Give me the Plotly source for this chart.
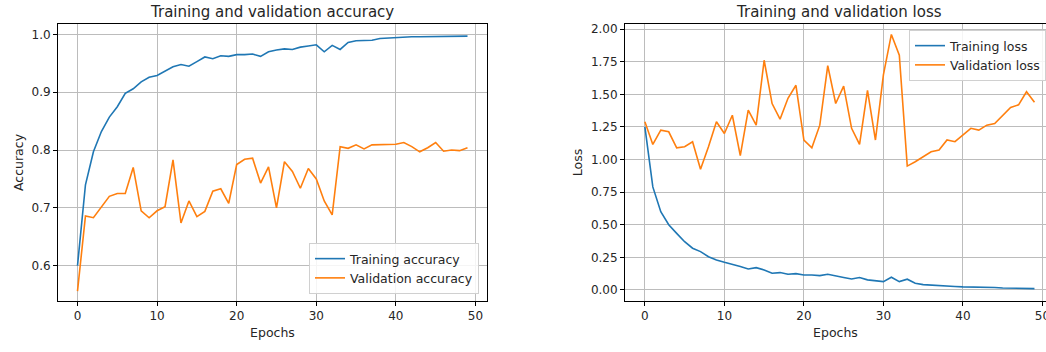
import plotly.graph_objects as go

epochs = list(range(50))

train_acc = [0.600, 0.740, 0.797, 0.832, 0.857, 0.875, 0.898, 0.906, 0.918, 0.926,
             0.929, 0.936, 0.944, 0.948, 0.945, 0.953, 0.961, 0.958, 0.963, 0.962,
             0.965, 0.965, 0.966, 0.962, 0.970, 0.973, 0.975, 0.974, 0.978, 0.980,
             0.982, 0.970, 0.981, 0.974, 0.986, 0.989, 0.990, 0.990, 0.993, 0.994,
             0.994, 0.995, 0.996, 0.996, 0.996, 0.997, 0.997, 0.997, 0.997, 0.997]

val_acc = [0.556, 0.686, 0.683, 0.702, 0.720, 0.725, 0.725, 0.770, 0.695, 0.683,
           0.695, 0.702, 0.783, 0.674, 0.712, 0.685, 0.694, 0.729, 0.733, 0.708,
           0.775, 0.784, 0.786, 0.743, 0.771, 0.700, 0.780, 0.763, 0.734, 0.768,
           0.750, 0.712, 0.688, 0.806, 0.803, 0.809, 0.802, 0.809, 0.809, 0.810,
           0.810, 0.813, 0.806, 0.797, 0.804, 0.813, 0.798, 0.800, 0.799, 0.804]

train_loss = [1.25, 0.79, 0.60, 0.50, 0.434, 0.37, 0.32, 0.294, 0.255, 0.23,
              0.212, 0.197, 0.179, 0.161, 0.171, 0.153, 0.128, 0.133, 0.120, 0.125,
              0.115, 0.115, 0.110, 0.120, 0.110, 0.096, 0.084, 0.095, 0.077, 0.069,
              0.064, 0.097, 0.064, 0.082, 0.051, 0.041, 0.036, 0.033, 0.028, 0.026,
              0.023, 0.023, 0.020, 0.020, 0.018, 0.015, 0.015, 0.015, 0.015, 0.010]

val_loss = [1.29, 1.116, 1.226, 1.213, 1.09, 1.098, 1.137, 0.925, 1.098, 1.29,
            1.20, 1.34, 1.03, 1.38, 1.264, 1.762, 1.43, 1.31, 1.47, 1.57,
            1.15, 1.09, 1.264, 1.72, 1.43, 1.563, 1.24, 1.116, 1.53, 1.15,
            1.65, 1.96, 1.80, 0.95, 0.983, 1.02, 1.06, 1.073, 1.15, 1.137,
            1.19, 1.24, 1.226, 1.264, 1.277, 1.34, 1.40, 1.42, 1.52, 1.44]

BLUE = "#1f77b4"
ORANGE = "#ff7f0e"
FONT = "DejaVu Sans"
TXT = "#262626"
W, H = 1046, 352

fig = go.Figure()
fig.add_trace(go.Scatter(x=epochs, y=train_acc, mode="lines", name="Training accuracy",
                         line=dict(color=BLUE, width=1.6), xaxis="x", yaxis="y", legend="legend"))
fig.add_trace(go.Scatter(x=epochs, y=val_acc, mode="lines", name="Validation accuracy",
                         line=dict(color=ORANGE, width=1.6), xaxis="x", yaxis="y", legend="legend"))
fig.add_trace(go.Scatter(x=epochs, y=train_loss, mode="lines", name="Training loss",
                         line=dict(color=BLUE, width=1.6), xaxis="x2", yaxis="y2", legend="legend2"))
fig.add_trace(go.Scatter(x=epochs, y=val_loss, mode="lines", name="Validation loss",
                         line=dict(color=ORANGE, width=1.6), xaxis="x2", yaxis="y2", legend="legend2"))

def px_x(p):
    return p / W

def px_y(p):
    return (H - p) / H

axis_common = dict(showgrid=True, gridcolor="#bcbcbc", gridwidth=1, zeroline=False,
                   showline=True, linecolor="black", linewidth=1, ticks="outside",
                   ticklen=4, tickcolor="black", tickfont=dict(family=FONT, size=12, color=TXT),
                   automargin=False, ticklabeloverflow="allow")

fig.update_layout(
    width=W, height=H,
    margin=dict(l=0, r=0, t=0, b=0),
    paper_bgcolor="white", plot_bgcolor="white",
    font=dict(family=FONT, size=12, color=TXT),
    xaxis=dict(domain=[px_x(58), px_x(487)], range=[-2.45, 51.45], dtick=10, tick0=0,
               mirror=True, anchor="y",
               title=dict(text="Epochs", font=dict(family=FONT, size=12.5, color=TXT), standoff=5),
               **axis_common),
    yaxis=dict(domain=[px_y(301), px_y(24)], range=[0.539, 1.018], dtick=0.1, tick0=0,
               tickformat=".1f", mirror=True, anchor="x",
               title=dict(text="Accuracy", font=dict(family=FONT, size=12.5, color=TXT), standoff=5),
               **axis_common),
    xaxis2=dict(domain=[px_x(625), 1.0], range=[-2.5, 50.45], dtick=10, tick0=0,
                mirror=True, anchor="y2",
                title=dict(text="Epochs", font=dict(family=FONT, size=12.5, color=TXT), standoff=5),
                **axis_common),
    yaxis2=dict(domain=[px_y(301), px_y(24)], range=[-0.085, 2.04], dtick=0.25, tick0=0,
                tickformat=".2f", mirror=False, anchor="x2",
                title=dict(text="Loss", font=dict(family=FONT, size=12.5, color=TXT), standoff=5),
                **axis_common),
    legend=dict(x=px_x(479), y=px_y(294), xanchor="right", yanchor="bottom",
                bgcolor="rgba(255,255,255,0.85)", bordercolor="#d0d0d0", borderwidth=1,
                font=dict(family=FONT, size=12.5, color=TXT), tracegroupgap=0),
    legend2=dict(x=1.0, y=px_y(30), xanchor="right", yanchor="top",
                 bgcolor="rgba(255,255,255,0.85)", bordercolor="#d0d0d0", borderwidth=1,
                 font=dict(family=FONT, size=12.5, color=TXT), tracegroupgap=0),
    annotations=[
        dict(text="Training and validation accuracy", x=(px_x(58) + px_x(487)) / 2, y=px_y(12),
             xref="paper", yref="paper", showarrow=False, xanchor="center", yanchor="middle",
             font=dict(family=FONT, size=15, color=TXT)),
        dict(text="Training and validation loss", x=(px_x(625) + px_x(1053)) / 2, y=px_y(12),
             xref="paper", yref="paper", showarrow=False, xanchor="center", yanchor="middle",
             font=dict(family=FONT, size=15, color=TXT)),
    ],
)

fig.write_html("out.html")
